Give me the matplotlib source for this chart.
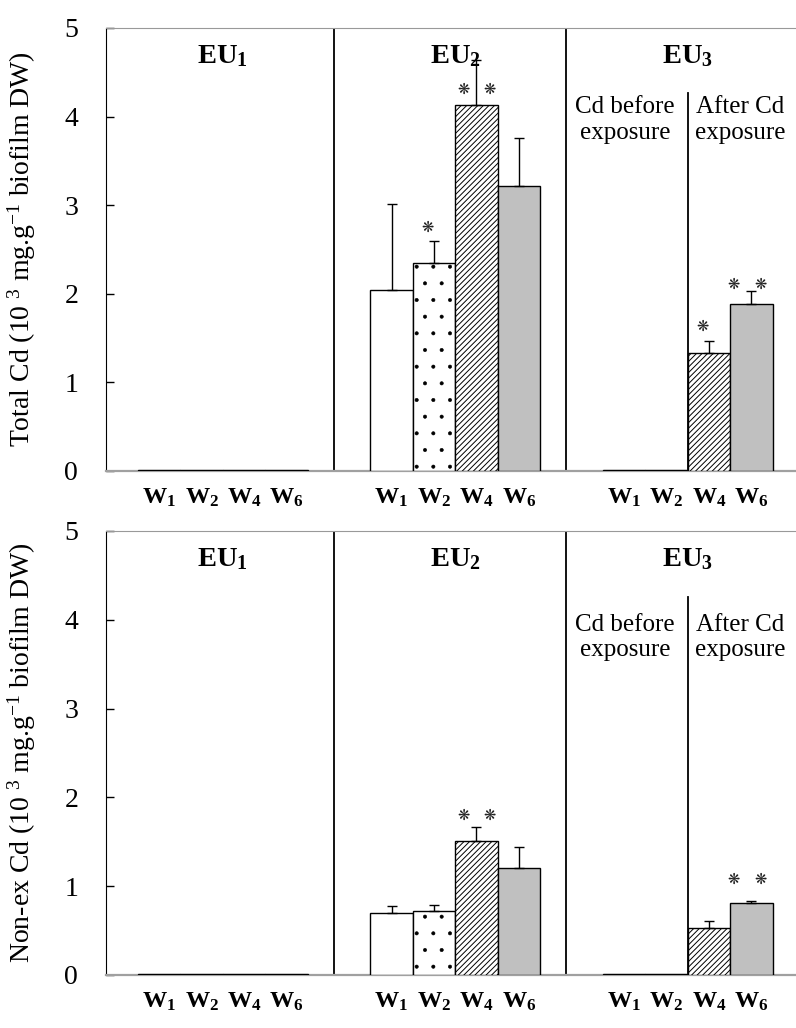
import matplotlib
matplotlib.use("Agg")
import matplotlib.pyplot as plt
import numpy as np

plt.rcParams['font.family'] = ['Liberation Serif', 'DejaVu Sans']
plt.rcParams['mathtext.fontset'] = 'custom'
plt.rcParams['mathtext.rm'] = 'Liberation Serif'
plt.rcParams['mathtext.bf'] = 'Liberation Serif:bold'
plt.rcParams['mathtext.it'] = 'Liberation Serif:italic'
plt.rcParams['hatch.linewidth'] = 0.8

# ---------------- data ----------------
groups = [r'$\mathbf{EU_1}$', r'$\mathbf{EU_2}$', r'$\mathbf{EU_3}$']
well_labels = [r'$\mathbf{W_1}$', r'$\mathbf{W_2}$', r'$\mathbf{W_4}$', r'$\mathbf{W_6}$']

total_mean = [[0.01, 0.01, 0.01, 0.01],
              [2.04, 2.35, 4.13, 3.22],
              [0.01, 0.01, 1.33, 1.89]]
total_err = [[0, 0, 0, 0],
             [0.97, 0.25, 0.51, 0.54],
             [0, 0, 0.14, 0.14]]

nonex_mean = [[0.01, 0.01, 0.01, 0.01],
              [0.70, 0.72, 1.51, 1.20],
              [0.01, 0.01, 0.53, 0.81]]
nonex_err = [[0, 0, 0, 0],
             [0.08, 0.07, 0.16, 0.24],
             [0, 0, 0.08, 0.02]]

# significance marks: (group, well index, number of stars, y)
total_sig = [(1, 1, 1, 2.75), (1, 2, 2, 4.31), (2, 2, 1, 1.63), (2, 3, 2, 2.11)]
nonex_sig = [(1, 2, 2, 1.80), (2, 3, 2, 1.08)]

ylabels = ['Total Cd (10 $^{3}$ mg.g$^{-1}$ biofilm DW)',
           'Non-ex Cd (10 $^{3}$ mg.g$^{-1}$ biofilm DW)']
sub_left = 'Cd before\nexposure'
sub_right = 'After Cd\nexposure'

# ---------------- style ----------------
group_start = [0.0, 5.47, 10.94]
styles = [dict(facecolor='white', hatch=None, hlw=0.8),
          dict(facecolor='white', hatch='.', hlw=0.4),
          dict(facecolor='white', hatch='//////', hlw=0.7),
          dict(facecolor='#c0c0c0', hatch=None, hlw=0.8)]

fig = plt.figure(figsize=(7.96, 10.28), dpi=100)
ax_top = fig.add_axes([106/796, 1 - 471/1028, 1 - 106/796, (471 - 28)/1028])
ax_bot = fig.add_axes([106/796, 1 - 975/1028, 1 - 106/796, (975 - 531)/1028])


def draw(ax, means, errs, sigs, ylabel, sub_y, line_top):
    centers = []
    for g, start in enumerate(group_start):
        for i in range(4):
            x = start + i
            centers.append(x)
            st = styles[i]
            with plt.rc_context({'hatch.linewidth': st['hlw']}):
                ax.bar(x, means[g][i], width=1.0, facecolor=st['facecolor'],
                       edgecolor='black', linewidth=1.0, hatch=st['hatch'], zorder=3)
            if errs[g][i] > 0:
                ax.errorbar(x, means[g][i], yerr=[[0], [errs[g][i]]], fmt='none',
                            ecolor='black', elinewidth=1.0, capsize=3.5,
                            capthick=1.0, zorder=4)
    for g, i, n, y in sigs:
        x = group_start[g] + i
        if n == 1:
            offs = [-0.15]
        elif g == 2:
            offs = [-0.42, 0.21]
        else:
            offs = [-0.3, 0.3]
        for o in offs:
            ax.text(x + o, y, '\u274b', ha='center', va='center', fontsize=10.5,
                    family='DejaVu Sans', color='#222222', zorder=5)
    # separators
    for xs in (4.12, 9.58):
        ax.axvline(xs, color='black', lw=1.3, zorder=2)
    ax.plot([12.44, 12.44], [0, line_top], color='black', lw=1.3, zorder=2)
    # group titles
    for g, start in enumerate(group_start):
        ax.text(start + 1.5, 4.68, groups[g], ha='center', va='center', fontsize=20.5)
    ax.text(10.96, sub_y, sub_left, ha='center', va='center', fontsize=18,
            linespacing=1.2)
    ax.text(13.67, sub_y, sub_right, ha='center', va='center', fontsize=18,
            linespacing=1.2)

    ax.set_xlim(-1.25, 14.99)
    ax.set_ylim(0, 5)
    ax.set_yticks(range(6))
    ax.tick_params(axis='y', direction='in', length=6, width=1, labelsize=20, pad=20)
    ax.set_xticks(centers)
    ax.set_xticklabels(well_labels * 3, fontsize=17.5)
    ax.tick_params(axis='x', length=0, pad=11)
    ax.spines['right'].set_visible(False)
    ax.spines['top'].set_color('#999999')
    ax.spines['bottom'].set_color('#a0a0a0')
    ax.spines['bottom'].set_linewidth(1.6)
    ax.spines['left'].set_color('black')
    ax.set_ylabel(ylabel, fontsize=20)
    ax.yaxis.set_label_coords(-0.098, 0.5)


draw(ax_top, total_mean, total_err, total_sig, ylabels[0], 3.96, 4.27)
draw(ax_bot, nonex_mean, nonex_err, nonex_sig, ylabels[1], 3.80, 4.26)

fig.savefig('out.png', dpi=100)
